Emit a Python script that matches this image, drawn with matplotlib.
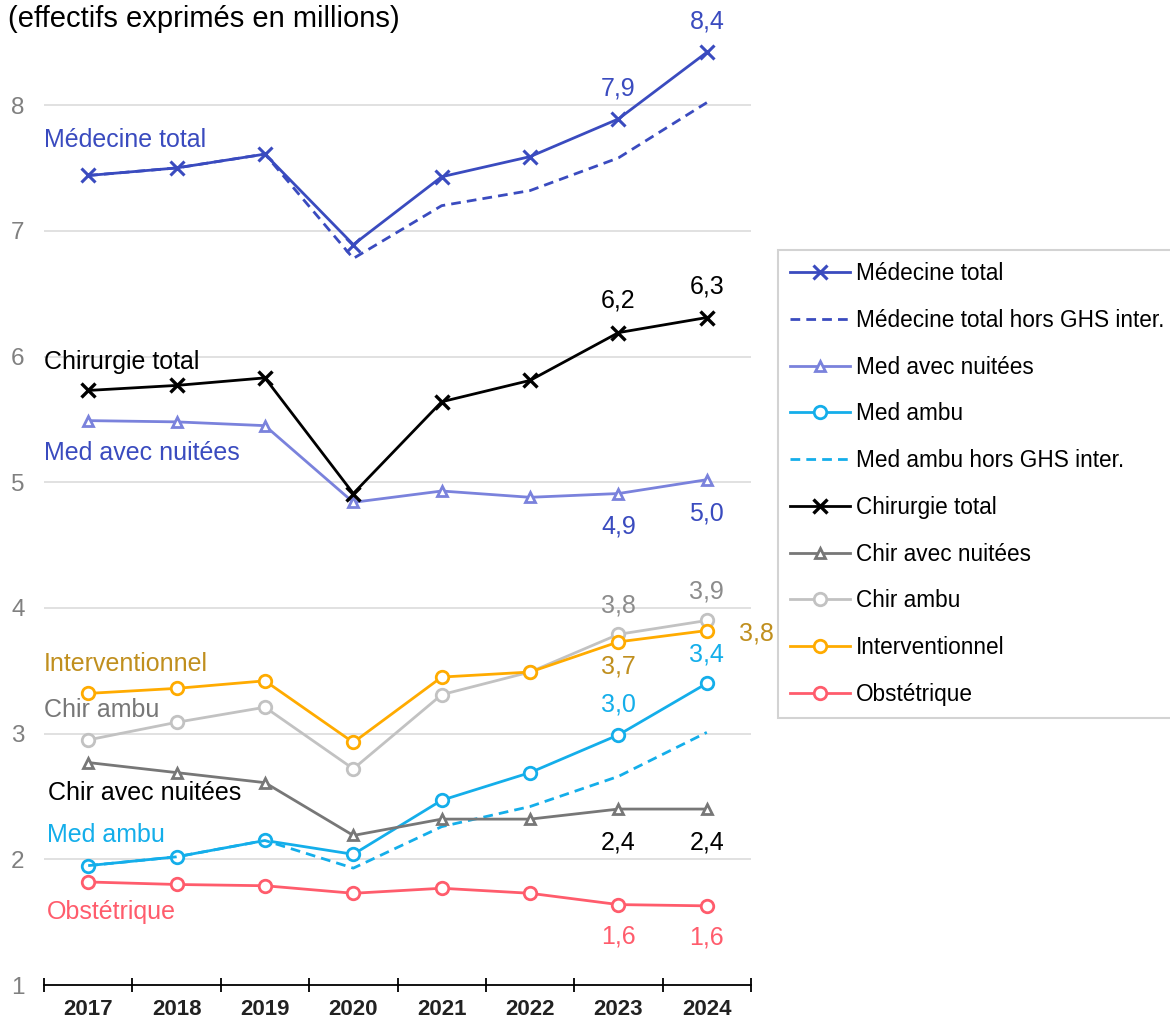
import numpy as np
import matplotlib
matplotlib.use("Agg")
import matplotlib.pyplot as plt
from matplotlib.ticker import FixedLocator, NullFormatter

plt.rcParams["font.family"] = ["Liberation Sans", "DejaVu Sans"]

# Years and series (effectifs in millions)
years = ["2017", "2018", "2019", "2020", "2021", "2022", "2023", "2024"]

med_total = [7.44, 7.50, 7.61, 6.89, 7.43, 7.59, 7.89, 8.42]
med_total_hors = [7.44, 7.50, 7.61, 6.78, 7.20, 7.32, 7.58, 8.02]
med_nuitees = [5.49, 5.48, 5.45, 4.84, 4.93, 4.88, 4.91, 5.02]
med_ambu = [1.95, 2.02, 2.15, 2.04, 2.47, 2.69, 2.99, 3.40]
med_ambu_hors = [1.95, 2.02, 2.15, 1.93, 2.26, 2.42, 2.66, 3.01]
chir_total = [5.73, 5.77, 5.83, 4.91, 5.64, 5.81, 6.19, 6.31]
chir_nuitees = [2.77, 2.69, 2.61, 2.19, 2.32, 2.32, 2.40, 2.40]
chir_ambu = [2.95, 3.09, 3.21, 2.72, 3.31, 3.49, 3.79, 3.90]
interventionnel = [3.32, 3.36, 3.42, 2.93, 3.45, 3.49, 3.73, 3.82]
obstetrique = [1.82, 1.80, 1.79, 1.73, 1.77, 1.73, 1.64, 1.63]

BLUE = "#3a4bbf"
LAV = "#7a82dc"
CYAN = "#14aeea"
DGRAY = "#777777"
LGRAY = "#c2c2c2"
ORANGE = "#ffab00"
GOLD = "#c08f1e"
RED = "#ff5c6c"

x = np.arange(len(years))

fig = plt.figure(figsize=(11.7, 10.23), dpi=100)
ax = fig.add_axes([0.0376, 0.0371, 0.6043, 0.9339])

open_kw = dict(markerfacecolor="white", markeredgewidth=2.0)

series = [
    ("Médecine total", med_total, dict(color=BLUE, marker="x", markersize=10, markeredgewidth=2.2)),
    ("Médecine total hors GHS inter.", med_total_hors, dict(color=BLUE, linestyle=(0, (3.5, 2.2)))),
    ("Med avec nuitées", med_nuitees, dict(color=LAV, marker="^", markersize=7, **open_kw)),
    ("Med ambu", med_ambu, dict(color=CYAN, marker="o", markersize=9, **open_kw)),
    ("Med ambu hors GHS inter.", med_ambu_hors, dict(color=CYAN, linestyle=(0, (3.5, 2.2)))),
    ("Chirurgie total", chir_total, dict(color="black", marker="x", markersize=10, markeredgewidth=2.4)),
    ("Chir avec nuitées", chir_nuitees, dict(color=DGRAY, marker="^", markersize=7, **open_kw)),
    ("Chir ambu", chir_ambu, dict(color=LGRAY, marker="o", markersize=9, **open_kw)),
    ("Interventionnel", interventionnel, dict(color=ORANGE, marker="o", markersize=9, **open_kw)),
    ("Obstétrique", obstetrique, dict(color=RED, marker="o", markersize=9, **open_kw)),
]

for name, vals, kw in series:
    ax.plot(x, vals, linewidth=2.0, label=name, **kw)

# axes styling
ax.set_xlim(-0.5, 7.5)
ax.set_ylim(1, 8.6)
for s in ["top", "right", "left"]:
    ax.spines[s].set_visible(False)
ax.spines["bottom"].set_linewidth(1.3)
ax.spines["bottom"].set_color("black")

ax.set_yticks(range(1, 9))
ax.tick_params(axis="y", length=0, pad=14, labelsize=17.5, labelcolor="#808080")
for yv in range(2, 9):
    ax.axhline(yv, color="#dcdcdc", linewidth=1.2, zorder=0)

ax.xaxis.set_major_locator(FixedLocator(np.arange(-0.5, 8.0, 1.0)))
ax.xaxis.set_major_formatter(NullFormatter())
ax.tick_params(axis="x", which="major", direction="inout", length=10, width=1.3, color="black")
ax.xaxis.set_minor_locator(FixedLocator(x))
ax.set_xticklabels(years, minor=True)
ax.tick_params(axis="x", which="minor", length=0, pad=10, labelsize=16)
for lab in ax.get_xticklabels(minor=True):
    lab.set_fontweight("bold")
    lab.set_color("#222222")

fig.text(0.007, 0.981, "(effectifs exprimés en millions)", fontsize=21, va="center", ha="left")

# series names on the left
names = [
    ("Médecine total", 7.72, BLUE, -0.5),
    ("Chirurgie total", 5.96, "black", -0.5),
    ("Med avec nuitées", 5.23, BLUE, -0.5),
    ("Interventionnel", 3.555, GOLD, -0.5),
    ("Chir ambu", 3.19, DGRAY, -0.5),
    ("Chir avec nuitées", 2.53, "black", -0.45),
    ("Med ambu", 2.19, CYAN, -0.47),
    ("Obstétrique", 1.58, RED, -0.47),
]
for txt, yv, col, xv in names:
    ax.text(xv, yv, txt, color=col, fontsize=18, va="center", ha="left")


def fmt(v):
    return f"{v:.1f}".replace(".", ",")


# value labels for 2023 and 2024
def label(vals, idx, col, dy, dx=0, ha="center"):
    ax.annotate(fmt(vals[idx]), (x[idx], vals[idx]), xytext=(dx, dy),
                textcoords="offset points", ha=ha, va="center",
                color=col, fontsize=18)


label(med_total, 6, BLUE, 22)
label(med_total, 7, BLUE, 22)
label(chir_total, 6, "black", 23)
label(chir_total, 7, "black", 22)
label(med_nuitees, 6, BLUE, -24)
label(med_nuitees, 7, BLUE, -24)
label(chir_ambu, 6, "#8c8c8c", 21)
label(chir_ambu, 7, "#8c8c8c", 21)
label(interventionnel, 6, GOLD, -18)
label(interventionnel, 7, GOLD, -2, dx=23, ha="left")
label(med_ambu, 6, CYAN, 22)
label(med_ambu, 7, CYAN, 21)
label(chir_nuitees, 6, "black", -24)
label(chir_nuitees, 7, "black", -24)
label(obstetrique, 6, RED, -23)
label(obstetrique, 7, RED, -23)

leg = fig.legend(loc="upper left", bbox_to_anchor=(0.665, 0.7556), borderaxespad=0,
                 frameon=True, fancybox=False, edgecolor="#c8c8c8", fontsize=16.3,
                 handlelength=2.65, handletextpad=0.27, labelspacing=1.05,
                 borderpad=0.53, numpoints=1)
leg.get_frame().set_linewidth(1.5)

fig.savefig("out.png", dpi=100)
